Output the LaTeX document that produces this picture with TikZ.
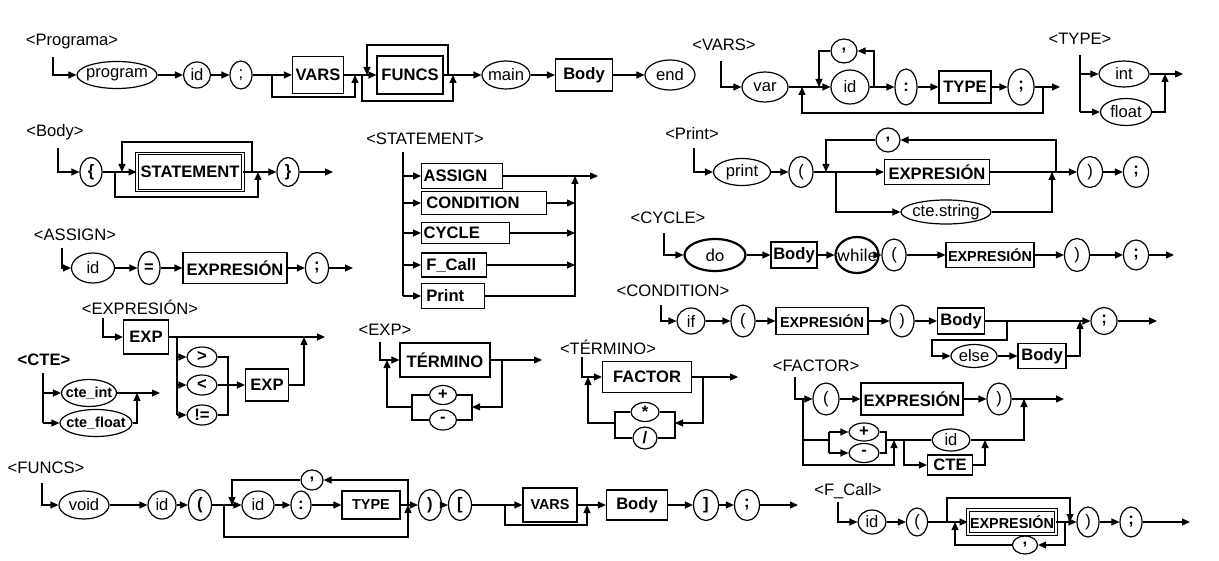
\documentclass[tikz,border=0pt]{standalone}
\usepackage{fontspec}
\setmainfont{Liberation Sans}
\newfontfamily\rrcal{Carlito}
\usetikzlibrary{arrows.meta,shapes.geometric}
\newcommand{\rrsize}{\fontsize{8.3}{10}\selectfont}
\newcommand{\rrsmall}{\fontsize{7.2}{9}\selectfont}
\newcommand{\rrtxt}[1]{\makebox[0pt]{#1}}

\begin{document}
\begin{tikzpicture}[
  x=0.5pt, y=-0.5pt,
  font=\rrsize,
  wh/.style 2 args={minimum width=#1*0.5pt,minimum height=#2*0.5pt},
  tm/.style={ellipse,draw,line width=0.6pt,inner sep=0pt},
  bold/.style={tm,line width=1.1pt,font=\rrcal\fontsize{9}{10}\selectfont},
  nt/.style={draw,line width=0.6pt,inner sep=1pt,font=\rrsize\bfseries},
  dbl/.style={nt,double,line width=0.45pt,double distance=0.8pt},
  sbox/.style={nt,anchor=west,align=left},
  hd/.style={inner sep=0pt},
  ln/.style={line width=0.6pt},
  ar/.style={ln,-{Triangle[length=4pt,width=3.5pt]}},
  ]
  \useasboundingbox (0,0) rectangle (1219,561);

  % <Programa>
  \node[hd] (hProg) at (72,42) {<Programa>};
  \coordinate (pIn) at (53,57);
  \node[tm,wh={80}{27}] (pProgram) at (117,75) {\rrtxt{program}};
  \node[tm,wh={27}{26}] (pId) at (197,75) {\rrtxt{id}};
  \node[tm,wh={22}{28}] (pSemi) at (241,75) {\rrtxt{;}};
  \node[nt,wh={51}{37}] (pVars) at (318,75) {VARS};
  \node[nt,wh={66}{38}] (pFuncs) at (410,75) {FUNCS};
  \node[tm,wh={48}{28}] (pMain) at (506,75) {\rrtxt{main}};
  \node[nt,wh={57}{32}] (pBody) at (584,75) {Body};
  \node[tm,wh={50}{30}] (pEnd) at (670,75) {\rrtxt{end}};
  \coordinate (pJ1) at (272,75);
  \coordinate (pJ2) at (355,75);
  \coordinate (pJ3) at (362,75);
  \coordinate (pJ4) at (367,75);
  \coordinate (pJ5) at (448,75);
  \coordinate (pJ6) at (453,75);
  \draw[ar] (pIn) |- (pProgram);
  \draw[ar] (pProgram) -- (pId);
  \draw[ar] (pId) -- (pSemi);
  \draw[ln] (pSemi) -- (pJ1);
  \draw[ar] (pJ1) -- (pVars);
  \draw[ar] (pJ1) -- ++(0,22) -| (pJ2);
  \draw[ln] (pVars) -- (pJ3);
  \draw[ar] (pJ3) -- (pFuncs);
  \draw[ar] (pJ5) -- ++(0,-30) -| (pJ4);
  \draw[ar] (pJ3) -- ++(0,26) -| (pJ6);
  \draw[ln] (pFuncs) -- (pJ6);
  \draw[ar] (pJ6) -- (pMain);
  \draw[ar] (pMain) -- (pBody);
  \draw[ar] (pBody) -- (pEnd);

  % <VARS>
  \node[hd] (hVars) at (724,45) {<VARS>};
  \coordinate (vIn) at (721,61);
  \node[tm,wh={46}{30}] (vVar) at (765,87) {\rrtxt{var}};
  \node[tm,wh={38}{34}] (vId) at (850,87) {\rrtxt{id}};
  \node[tm,wh={26}{24}] (vComma) at (844,51) {\rrtxt{\textbf{,}}};
  \node[tm,wh={22}{36}] (vColon) at (906,87) {\rrtxt{\textbf{:}}};
  \node[nt,wh={52}{32}] (vType) at (965,87) {TYPE};
  \node[tm,wh={26}{36}] (vSemi) at (1021,87) {\rrtxt{\textbf{;}}};
  \coordinate (vJ1) at (802,87);
  \coordinate (vJ2) at (819,87);
  \coordinate (vJ3) at (874,87);
  \coordinate (vJ4) at (1043,87);
  \coordinate (vOut) at (1060,87);
  \draw[ar] (vIn) |- (vVar);
  \draw[ln] (vVar) -- (vJ2);
  \draw[ar] (vJ2) -- (vId);
  \draw[ln] (vId) -- (vJ3);
  \draw[ar] (vJ3) |- (vComma);
  \draw[ar] (vComma) -| (vJ2);
  \draw[ar] (vJ3) -- (vColon);
  \draw[ar] (vColon) -- (vType);
  \draw[ar] (vType) -- (vSemi);
  \draw[ar] (vSemi) -- (vOut);
  \draw[ar] (vJ4) -- ++(0,26) -| (vJ1);

  % <TYPE>
  \node[hd] (hType) at (1080,39) {<TYPE>};
  \coordinate (tyTop) at (1080,55);
  \coordinate (tyBot) at (1080,112);
  \node[tm,wh={50}{26}] (tyInt) at (1124,74) {\rrtxt{int}};
  \node[tm,wh={51}{27}] (tyFloat) at (1126,112) {\rrtxt{float}};
  \coordinate (tyJ) at (1165,74);
  \coordinate (tyOut) at (1183,74);
  \draw[ln] (tyTop) -- (tyBot);
  \draw[ar] (tyTop |- tyInt) -- (tyInt);
  \draw[ar] (tyBot) -- (tyFloat);
  \draw[ar] (tyInt) -- (tyOut);
  \draw[ar] (tyFloat) -| (tyJ);

  % <Body>
  \node[hd] (hBody) at (55,132) {<Body>};
  \coordinate (bIn) at (58,148);
  \node[tm,wh={22}{29}] (bOpen) at (91,172) {\rrtxt{\textbf{\{}}};
  \node[dbl,wh={106}{37}] (bStmt) at (190,172) {STATEMENT};
  \node[tm,wh={22}{29}] (bClose) at (288,172) {\rrtxt{\textbf{\}}}};
  \coordinate (bJ1) at (115,172);
  \coordinate (bJ2) at (122,172);
  \coordinate (bJ3) at (252,172);
  \coordinate (bJ4) at (258,172);
  \coordinate (bOut) at (333,172);
  \draw[ar] (bIn) |- (bOpen);
  \draw[ln] (bOpen) -- (bJ2);
  \draw[ar] (bJ2) -- (bStmt);
  \draw[ar] (bJ3) -- ++(0,-30) -| (bJ2);
  \draw[ar] (bJ1) -- ++(0,25) -| (bJ4);
  \draw[ln] (bStmt) -- (bJ4);
  \draw[ar] (bJ4) -- (bClose);
  \draw[ar] (bClose) -- (bOut);

  % <STATEMENT>
  \node[hd] (hStmt) at (425,139) {<STATEMENT>};
  \coordinate (sTop) at (403,152);
  \coordinate (sBot) at (403,296);
  \node[sbox,text width=38.5pt,wh={81}{25}] (sAssign) at (421,176) {ASSIGN};
  \node[sbox,text width=60.5pt,wh={125}{23}] (sCond) at (421,203) {\,CONDITION};
  \node[sbox,text width=42pt,wh={88}{21}] (sCycle) at (421,233) {CYCLE};
  \node[sbox,text width=30.5pt,wh={65}{24}] (sFcall) at (421,265) {\,F\_Call};
  \node[sbox,text width=29.5pt,wh={63}{25}] (sPrint) at (421,296) {\,Print};
  \coordinate (sJ) at (575,176);
  \coordinate (sOut) at (598,176);
  \draw[ln] (sTop) -- (sBot);
  \draw[ar] (sTop |- sAssign) -- (sAssign);
  \draw[ar] (sTop |- sCond) -- (sCond);
  \draw[ar] (sTop |- sCycle) -- (sCycle);
  \draw[ar] (sTop |- sFcall) -- (sFcall);
  \draw[ar] (sBot) -- (sPrint);
  \draw[ar] (sAssign) -- (sOut);
  \draw[ar] (sCond) -- (sJ |- sCond);
  \draw[ar] (sCycle) -- (sJ |- sCycle);
  \draw[ar] (sFcall) -- (sJ |- sFcall);
  \draw[ar] (sPrint) -| (sJ);

  % <Print>
  \node[hd] (hPrint) at (692,134) {<Print>};
  \coordinate (prIn) at (694,148);
  \node[tm,wh={57}{27}] (prPrint) at (742,172) {\rrtxt{print}};
  \node[tm,wh={24}{31}] (prOpen) at (801,172) {\rrtxt{(}};
  \node[nt,wh={105}{25}] (prExpr) at (937,172) {EXPRESIÓN};
  \node[tm,wh={24}{24}] (prComma) at (888,140) {\rrtxt{\textbf{,}}};
  \node[tm,wh={90}{24}] (prStr) at (946,212) {\rrtxt{cte.string}};
  \node[tm,wh={25}{31}] (prClose) at (1090,172) {\rrtxt{)}};
  \node[tm,wh={25}{31}] (prSemi) at (1136,172) {\rrtxt{\textbf{;}}};
  \coordinate (prJ1) at (826,172);
  \coordinate (prJ2) at (836,172);
  \coordinate (prJ3) at (1052,172);
  \coordinate (prJ4) at (1056,172);
  \draw[ar] (prIn) |- (prPrint);
  \draw[ar] (prPrint) -- (prOpen);
  \draw[ln] (prOpen) -- (prJ2);
  \draw[ar] (prJ2) -- (prExpr);
  \draw[ar] (prJ2) |- (prStr);
  \draw[ar] (prStr) -| (prJ3);
  \draw[ln] (prExpr) -- (prJ4);
  \draw[ar] (prJ4) |- (prComma);
  \draw[ar] (prComma) -| (prJ1);
  \draw[ar] (prJ4) -- (prClose);
  \draw[ar] (prClose) -- (prSemi);

  % <CYCLE>
  \node[hd] (hCycle) at (668,218) {<CYCLE>};
  \coordinate (cyIn) at (664,233);
  \node[bold,wh={61}{32}] (cyDo) at (715,255) {\rrtxt{do}};
  \node[nt,wh={46}{26}] (cyBody) at (794,255) {Body};
  \node[bold,wh={43}{36}] (cyWhile) at (857,255) {\rrtxt{while}};
  \node[tm,wh={24}{32}] (cyOpen) at (894,255) {\rrtxt{(}};
  \node[nt,wh={86}{25},font=\rrsmall\bfseries] (cyExpr) at (990,255) {EXPRESIÓN};
  \node[tm,wh={25}{33}] (cyClose) at (1077,255) {\rrtxt{)}};
  \node[tm,wh={25}{30}] (cySemi) at (1136,255) {\rrtxt{\textbf{;}}};
  \coordinate (cyOut) at (1174,255);
  \draw[ar] (cyIn) |- (cyDo);
  \draw[ar] (cyDo) -- (cyBody);
  \draw[ar] (cyBody) -- (cyWhile);
  \draw[ar] (cyWhile) -- (cyOpen);
  \draw[ar] (cyOpen) -- (cyExpr);
  \draw[ar] (cyExpr) -- (cyClose);
  \draw[ar] (cyClose) -- (cySemi);
  \draw[ar] (cySemi) -- (cyOut);

  % <ASSIGN>
  \node[hd] (hAssign) at (75,235) {<ASSIGN>};
  \coordinate (aIn) at (62,248);
  \node[tm,wh={43}{30}] (aId) at (93,268) {\rrtxt{id}};
  \node[tm,wh={22}{33}] (aEq) at (149,268) {\rrtxt{\textbf{=}}};
  \node[nt,wh={104}{31}] (aExpr) at (235,268) {EXPRESIÓN};
  \node[tm,wh={23}{31}] (aSemi) at (317,268) {\rrtxt{\textbf{;}}};
  \coordinate (aOut) at (353,268);
  \draw[ar] (aIn) |- (aId);
  \draw[ar] (aId) -- (aEq);
  \draw[ar] (aEq) -- (aExpr);
  \draw[ar] (aExpr) -- (aSemi);
  \draw[ar] (aSemi) -- (aOut);

  % <EXPRESIÓN>
  \node[hd] (hExpr) at (140,307) {<EXPRESIÓN>};
  \coordinate (eIn) at (103,318);
  \node[nt,wh={45}{34}] (eExp) at (146,337) {EXP};
  \node[tm,wh={30}{20}] (eGt) at (202,357) {\rrtxt{\textbf{>}}};
  \node[tm,wh={30}{20}] (eLt) at (202,385) {\rrtxt{\textbf{<}}};
  \node[tm,wh={30}{20}] (eNe) at (202,415) {\rrtxt{\textbf{!=}}};
  \node[nt,wh={43}{32}] (eExp2) at (267,385) {EXP};
  \coordinate (eJ1) at (177,337);
  \coordinate (eC) at (228,385);
  \coordinate (eJ2) at (304,337);
  \coordinate (eOut) at (325,337);
  \draw[ar] (eIn) |- (eExp);
  \draw[ar] (eExp) -- (eOut);
  \draw[ln] (eJ1) -- (eJ1 |- eNe);
  \draw[ar] (eJ1 |- eGt) -- (eGt);
  \draw[ar] (eJ1 |- eLt) -- (eLt);
  \draw[ar] (eJ1 |- eNe) -- (eNe);
  \draw[ln] (eGt) -| (eC) |- (eNe);
  \draw[ln] (eLt) -- (eC);
  \draw[ar] (eC) -- (eExp2);
  \draw[ar] (eExp2) -| (eJ2);

  % <CTE>
  \node[hd,font=\rrsize\bfseries] (hCte) at (44,360) {<CTE>};
  \coordinate (cTop) at (43,373);
  \node[tm,wh={55}{27},font=\rrsmall\bfseries] (cInt) at (89,393) {\rrtxt{cte\_int}};
  \node[tm,wh={72}{27},font=\rrsmall\bfseries] (cFloat) at (96,423) {\rrtxt{cte\_float}};
  \coordinate (cJ) at (137,393);
  \coordinate (cOut) at (160,393);
  \draw[ln] (cTop) -- (cTop |- cFloat);
  \draw[ar] (cTop |- cInt) -- (cInt);
  \draw[ar] (cTop |- cFloat) -- (cFloat);
  \draw[ar] (cInt) -- (cOut);
  \draw[ar] (cFloat) -| (cJ);

  % <EXP>
  \node[hd] (hExp) at (385,330) {<EXP>};
  \coordinate (xIn) at (380,342);
  \node[nt,wh={90}{34}] (xTerm) at (445,360) {TÉRMINO};
  \node[tm,wh={27}{19}] (xPlus) at (443,395) {\rrtxt{\textbf{+}}};
  \node[tm,wh={27}{20}] (xMinus) at (443,420) {\rrtxt{\textbf{-}}};
  \coordinate (xJ) at (502,360);
  \coordinate (xOut) at (542,360);
  \coordinate (xR) at (472,407);
  \coordinate (xL) at (412,407);
  \coordinate (xUp) at (387,360);
  \draw[ar] (xIn) |- (xTerm);
  \draw[ar] (xTerm) -- (xOut);
  \draw[ar] (xJ) |- (xR);
  \draw[ln] (xPlus) -| (xR) |- (xMinus);
  \draw[ln] (xPlus) -| (xL) |- (xMinus);
  \draw[ar] (xL) -| (xUp);

  % <TÉRMINO>
  \node[hd] (hTerm) at (608,347) {<TÉRMINO>};
  \coordinate (tIn) at (582,357);
  \node[nt,wh={89}{31}] (tFactor) at (647,377) {FACTOR};
  \node[tm,wh={28}{19}] (tTimes) at (645,412) {\rrtxt{\textbf{*}}};
  \node[tm,wh={24}{22}] (tDiv) at (645,438) {\rrtxt{\textbf{/}}};
  \coordinate (tJ) at (703,377);
  \coordinate (tOut) at (738,377);
  \coordinate (tR) at (675,423);
  \coordinate (tL) at (615,423);
  \coordinate (tUp) at (588,377);
  \draw[ar] (tIn) |- (tFactor);
  \draw[ar] (tFactor) -- (tOut);
  \draw[ar] (tJ) |- (tR);
  \draw[ln] (tTimes) -| (tR) |- (tDiv);
  \draw[ln] (tTimes) -| (tL) |- (tDiv);
  \draw[ar] (tL) -| (tUp);

  % <CONDITION>
  \node[hd] (hCond) at (673,291) {<CONDITION>};
  \coordinate (cdIn) at (661,305);
  \node[tm,wh={28}{26}] (cdIf) at (691,321) {\rrtxt{if}};
  \node[tm,wh={24}{32}] (cdOpen) at (743,321) {\rrtxt{(}};
  \node[nt,wh={92}{27},font=\rrsmall\bfseries] (cdExpr) at (822,321) {EXPRESIÓN};
  \node[tm,wh={24}{32}] (cdClose) at (902,321) {\rrtxt{)}};
  \node[nt,wh={47}{26}] (cdBody) at (961,321) {Body};
  \node[tm,wh={26}{27}] (cdSemi) at (1104,321) {\rrtxt{\textbf{;}}};
  \node[tm,wh={46}{23}] (cdElse) at (974,356) {\rrtxt{else}};
  \node[nt,wh={48}{25}] (cdBody2) at (1042,356) {Body};
  \coordinate (cdJ1) at (1007,321);
  \coordinate (cdBend) at (932,340);
  \coordinate (cdJ2) at (1080,321);
  \coordinate (cdOut) at (1157,321);
  \draw[ar] (cdIn) |- (cdIf);
  \draw[ar] (cdIf) -- (cdOpen);
  \draw[ar] (cdOpen) -- (cdExpr);
  \draw[ar] (cdExpr) -- (cdClose);
  \draw[ar] (cdClose) -- (cdBody);
  \draw[ar] (cdBody) -- (cdSemi);
  \draw[ar] (cdJ1) |- (cdBend) |- (cdElse);
  \draw[ar] (cdElse) -- (cdBody2);
  \draw[ar] (cdBody2) -| (cdJ2);
  \draw[ar] (cdSemi) -- (cdOut);

  % <FACTOR>
  \node[hd] (hFactor) at (816,366) {<FACTOR>};
  \coordinate (fIn) at (795,377);
  \node[tm,wh={26}{32}] (fOpen) at (826,399) {\rrtxt{(}};
  \node[nt,wh={102}{32}] (fExpr) at (912,399) {EXPRESIÓN};
  \node[tm,wh={24}{32}] (fClose) at (999,399) {\rrtxt{)}};
  \node[tm,wh={30}{18}] (fPlus) at (864,432) {\rrtxt{\textbf{+}}};
  \node[tm,wh={30}{19}] (fMinus) at (864,453) {\rrtxt{\textbf{-}}};
  \node[tm,wh={38}{22}] (fId) at (951,440) {\rrtxt{id}};
  \node[nt,wh={45}{20}] (fCte) at (950,465) {CTE};
  \coordinate (fJ0) at (803,399);
  \coordinate (fS) at (829,440);
  \coordinate (fSR) at (886,440);
  \coordinate (fJ2) at (894,440);
  \coordinate (fBot) at (894,465);
  \coordinate (fJ3) at (904,440);
  \coordinate (fJ4) at (985,440);
  \coordinate (fJ1) at (1024,399);
  \coordinate (fOut) at (1064,399);
  \draw[ar] (fIn) |- (fOpen);
  \draw[ar] (fOpen) -- (fExpr);
  \draw[ar] (fExpr) -- (fClose);
  \draw[ar] (fClose) -- (fOut);
  \draw[ar] (fJ0) |- (fBot) -- (fJ2);
  \draw[ln] (fJ0 |- fS) -- (fS);
  \draw[ln] (fS |- fPlus) -- (fS |- fMinus);
  \draw[ar] (fS |- fPlus) -- (fPlus);
  \draw[ar] (fS |- fMinus) -- (fMinus);
  \draw[ln] (fPlus) -| (fSR) |- (fMinus);
  \draw[ln] (fSR) -- (fId);
  \draw[ar] (fJ3) |- (fCte);
  \draw[ar] (fId) -| (fJ1);
  \draw[ar] (fCte) -| (fJ4);

  % <FUNCS>
  \node[hd] (hFuncs) at (46,468) {<FUNCS>};
  \coordinate (fnIn) at (42,483);
  \node[tm,wh={50}{28}] (fnVoid) at (84,505) {\rrtxt{void}};
  \node[tm,wh={28}{28}] (fnId) at (162,505) {\rrtxt{id}};
  \node[tm,wh={23}{31}] (fnOpen) at (200,505) {\rrtxt{\textbf{(}}};
  \node[tm,wh={32}{28}] (fnId2) at (258,505) {\rrtxt{id}};
  \node[tm,wh={20}{28}] (fnColon) at (301,505) {\rrtxt{\textbf{:}}};
  \node[nt,wh={58}{28},font=\rrsmall\bfseries] (fnType) at (371,505) {TYPE};
  \node[tm,wh={22}{20}] (fnComma) at (312,480) {\rrtxt{\textbf{,}}};
  \node[tm,wh={23}{31}] (fnClose) at (430,505) {\rrtxt{\textbf{)}}};
  \node[tm,wh={23}{31}] (fnLbr) at (460,505) {\rrtxt{\textbf{[}}};
  \node[nt,wh={54}{34},font=\rrsmall\bfseries] (fnVars) at (550,505) {VARS};
  \node[nt,wh={61}{30}] (fnBody) at (637,505) {Body};
  \node[tm,wh={25}{31}] (fnRbr) at (706,505) {\rrtxt{\textbf{]}}};
  \node[tm,wh={25}{31}] (fnSemi) at (747,505) {\rrtxt{\textbf{;}}};
  \coordinate (fnJ1) at (224,505);
  \coordinate (fnJ2) at (232,505);
  \coordinate (fnJ3) at (408,505);
  \coordinate (fnJ4) at (505,505);
  \coordinate (fnJ5) at (587,505);
  \coordinate (fnOut) at (798,505);
  \draw[ar] (fnIn) |- (fnVoid);
  \draw[ar] (fnVoid) -- (fnId);
  \draw[ar] (fnId) -- (fnOpen);
  \draw[ln] (fnOpen) -- (fnJ2);
  \draw[ar] (fnJ2) -- (fnId2);
  \draw[ar] (fnId2) -- (fnColon);
  \draw[ar] (fnColon) -- (fnType);
  \draw[ln] (fnType) -- (fnJ3);
  \draw[ar] (fnJ3) |- (fnComma);
  \draw[ar] (fnComma) -| (fnJ2);
  \draw[ar] (fnJ1) -- ++(0,32) -| (fnJ3);
  \draw[ar] (fnJ3) -- (fnClose);
  \draw[ar] (fnClose) -- (fnLbr);
  \draw[ln] (fnLbr) -- (fnJ4);
  \draw[ar] (fnJ4) -- (fnVars);
  \draw[ar] (fnJ4) -- ++(0,20) -| (fnJ5);
  \draw[ln] (fnVars) -- (fnJ5);
  \draw[ar] (fnJ5) -- (fnBody);
  \draw[ar] (fnBody) -- (fnRbr);
  \draw[ar] (fnRbr) -- (fnSemi);
  \draw[ar] (fnSemi) -- (fnOut);

  % <F_Call>
  \node[hd] (hFcall) at (848,491) {<F\_Call>};
  \coordinate (fcIn) at (838,502);
  \node[tm,wh={28}{24}] (fcId) at (872,522) {\rrtxt{id}};
  \node[tm,wh={21}{28}] (fcOpen) at (917,522) {\rrtxt{(}};
  \node[dbl,wh={87}{24},font=\rrsmall\bfseries] (fcExpr) at (1012,522) {EXPRESIÓN};
  \node[tm,wh={25}{18}] (fcComma) at (1025,545) {\rrtxt{\textbf{,}}};
  \node[tm,wh={22}{30}] (fcClose) at (1088,522) {\rrtxt{)}};
  \node[tm,wh={22}{30}] (fcSemi) at (1131,522) {\rrtxt{\textbf{;}}};
  \coordinate (fcJ1) at (947,522);
  \coordinate (fcJ2) at (955,522);
  \coordinate (fcJ3) at (1065,522);
  \coordinate (fcJ4) at (1070,522);
  \coordinate (fcOut) at (1190,522);
  \draw[ar] (fcIn) |- (fcId);
  \draw[ar] (fcId) -- (fcOpen);
  \draw[ln] (fcOpen) -- (fcJ1);
  \draw[ar] (fcJ1) -- (fcExpr);
  \draw[ar] (fcJ1) -- ++(0,-24) -| (fcJ4);
  \draw[ln] (fcExpr) -- (fcJ3);
  \draw[ar] (fcJ3) |- (fcComma);
  \draw[ar] (fcComma) -| (fcJ2);
  \draw[ar] (fcJ3) -- (fcClose);
  \draw[ar] (fcClose) -- (fcSemi);
  \draw[ar] (fcSemi) -- (fcOut);
\end{tikzpicture}
\end{document}
